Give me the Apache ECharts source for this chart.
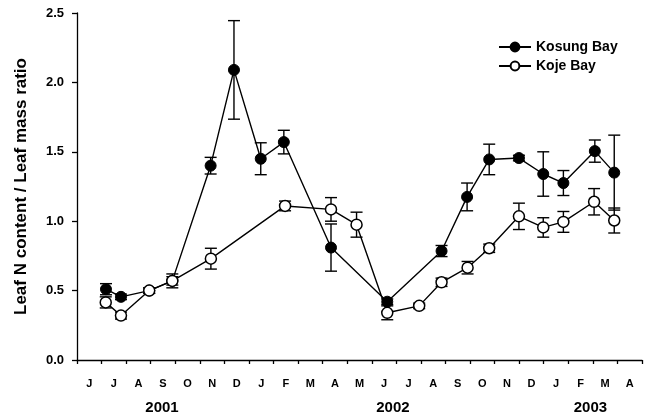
<!DOCTYPE html>
<html>
<head>
<meta charset="utf-8">
<script src="https://cdn.jsdelivr.net/npm/echarts@6/dist/echarts.min.js"></script>
<style>
  html, body { margin: 0; padding: 0; background: #fff; }
  #chart { width: 651px; height: 419px; }
</style>
</head>
<body>
<div id="chart"></div>
<script>
// Months counted from 1 June 2001 (0) to 1 May 2003 (23); sampling dates are fractional months.
const monthLabels = ['J','J','A','S','O','N','D','J','F','M','A','M','J','J','A','S','O','N','D','J','F','M','A'];
const yearLabels = ['2001', '2002', '2003'];
const yearCentres = [3.46, 12.86, 20.9];

// Kosung Bay: sampling time, mean ratio, standard error
const kosungMonth = [1.18, 1.79, 2.94, 3.88, 5.44, 6.39, 7.48, 8.42, 10.34, 12.63, 14.84, 15.88, 16.78, 17.99, 18.98, 19.8, 21.08, 21.87];
const kosungMean  = [0.51, 0.455, 0.50, 0.57, 1.40, 2.09, 1.45, 1.57, 0.81, 0.42, 0.785, 1.175, 1.445, 1.455, 1.34, 1.275, 1.505, 1.35];
const kosungSE    = [0.04, 0.02, 0.02, 0.03, 0.06, 0.355, 0.115, 0.085, 0.17, 0.02, 0.04, 0.10, 0.11, 0.02, 0.16, 0.09, 0.08, 0.27];

// Koje Bay
const kojeMonth = [1.17, 1.79, 2.94, 3.88, 5.45, 8.47, 10.34, 11.38, 12.63, 13.93, 14.84, 15.9, 16.78, 17.99, 18.98, 19.8, 21.05, 21.87];
const kojeMean  = [0.415, 0.32, 0.50, 0.57, 0.73, 1.11, 1.085, 0.975, 0.34, 0.39, 0.56, 0.665, 0.805, 1.035, 0.955, 0.995, 1.14, 1.005];
const kojeSE    = [0.04, 0.025, 0.02, 0.05, 0.075, 0.035, 0.085, 0.09, 0.05, 0.02, 0.03, 0.045, 0.03, 0.095, 0.07, 0.075, 0.095, 0.09];

const FONT = '"Liberation Sans", Arial, sans-serif';

function pairs(xs, ys) { return xs.map((x, i) => [x, ys[i]]); }
function errRows(xs, ys, se) { return xs.map((x, i) => [x, ys[i] - se[i], ys[i] + se[i]]); }

function errorBarRender(params, api) {
  const x = api.value(0);
  const lo = api.coord([x, api.value(1)]);
  const hi = api.coord([x, api.value(2)]);
  const half = 6;
  const style = { stroke: '#000', lineWidth: 1.4 };
  return {
    type: 'group',
    children: [
      { type: 'line', shape: { x1: lo[0], y1: lo[1], x2: hi[0], y2: hi[1] }, style },
      { type: 'line', shape: { x1: hi[0] - half, y1: hi[1], x2: hi[0] + half, y2: hi[1] }, style },
      { type: 'line', shape: { x1: lo[0] - half, y1: lo[1], x2: lo[0] + half, y2: lo[1] }, style }
    ]
  };
}

const chart = echarts.init(document.getElementById('chart'), null, { renderer: 'canvas' });

const option = {
  animation: false,
  backgroundColor: '#fff',
  textStyle: { fontFamily: FONT },
  grid: { left: 77, top: 13, right: 9, bottom: 59, containLabel: false },
  legend: {
    orient: 'vertical',
    left: 493,
    top: 35,
    itemGap: 5,
    itemWidth: 32,
    itemHeight: 11,
    textStyle: { fontFamily: FONT, fontWeight: 'bold', fontSize: 14, color: '#000' },
    data: ['Kosung Bay', 'Koje Bay']
  },
  xAxis: [
    {
      type: 'value', min: 0, max: 23, interval: 1,
      axisLine: { lineStyle: { color: '#000', width: 1.3 } },
      axisTick: { show: true, length: 4, lineStyle: { color: '#000', width: 1.3 } },
      axisLabel: { show: false },
      splitLine: { show: false }
    },
    {
      type: 'category', data: monthLabels, boundaryGap: true, position: 'bottom',
      axisLine: { show: false }, axisTick: { show: false },
      axisLabel: { margin: 18, fontFamily: FONT, fontWeight: 'bold', fontSize: 11, color: '#000', interval: 0 },
      splitLine: { show: false }
    }
  ],
  yAxis: {
    type: 'value', min: 0, max: 2.5, interval: 0.5,
    name: 'Leaf N content / Leaf mass ratio',
    nameLocation: 'middle', nameGap: 47,
    nameTextStyle: { fontFamily: FONT, fontWeight: 'bold', fontSize: 17, color: '#000' },
    axisLine: { show: true, lineStyle: { color: '#000', width: 1.3 } },
    axisTick: { show: true, length: 5, lineStyle: { color: '#000', width: 1.3 } },
    axisLabel: { margin: 13, fontFamily: FONT, fontWeight: 'bold', fontSize: 13, color: '#000',
                 formatter: v => v.toFixed(1) },
    splitLine: { show: false }
  },
  series: [
    {
      name: 'Kosung Bay err', type: 'custom', renderItem: errorBarRender,
      data: errRows(kosungMonth, kosungMean, kosungSE), z: 1, silent: true,
      encode: { x: 0, y: [1, 2] }
    },
    {
      name: 'Kosung Bay', type: 'line', data: pairs(kosungMonth, kosungMean), z: 2,
      symbol: 'circle', symbolSize: 11,
      lineStyle: { color: '#000', width: 1.4 },
      itemStyle: { color: '#000', borderColor: '#000', borderWidth: 1 }
    },
    {
      name: 'Koje Bay err', type: 'custom', renderItem: errorBarRender,
      data: errRows(kojeMonth, kojeMean, kojeSE), z: 3, silent: true,
      encode: { x: 0, y: [1, 2] }
    },
    {
      name: 'Koje Bay', type: 'line', data: pairs(kojeMonth, kojeMean), z: 4,
      symbol: 'circle', symbolSize: 11,
      lineStyle: { color: '#000', width: 1.4 },
      itemStyle: { color: '#fff', borderColor: '#000', borderWidth: 1.5 }
    }
  ]
};

chart.setOption(option);

// Year captions centred under their months
const yearY = 408;
chart.setOption({
  graphic: yearLabels.map((t, i) => ({
    type: 'text',
    x: chart.convertToPixel({ xAxisIndex: 0 }, yearCentres[i]),
    y: yearY,
    style: { text: t, fontFamily: FONT, fontWeight: 'bold', fontSize: 15, fill: '#000',
             textAlign: 'center', textVerticalAlign: 'middle' }
  }))
});
</script>
</body>
</html>
